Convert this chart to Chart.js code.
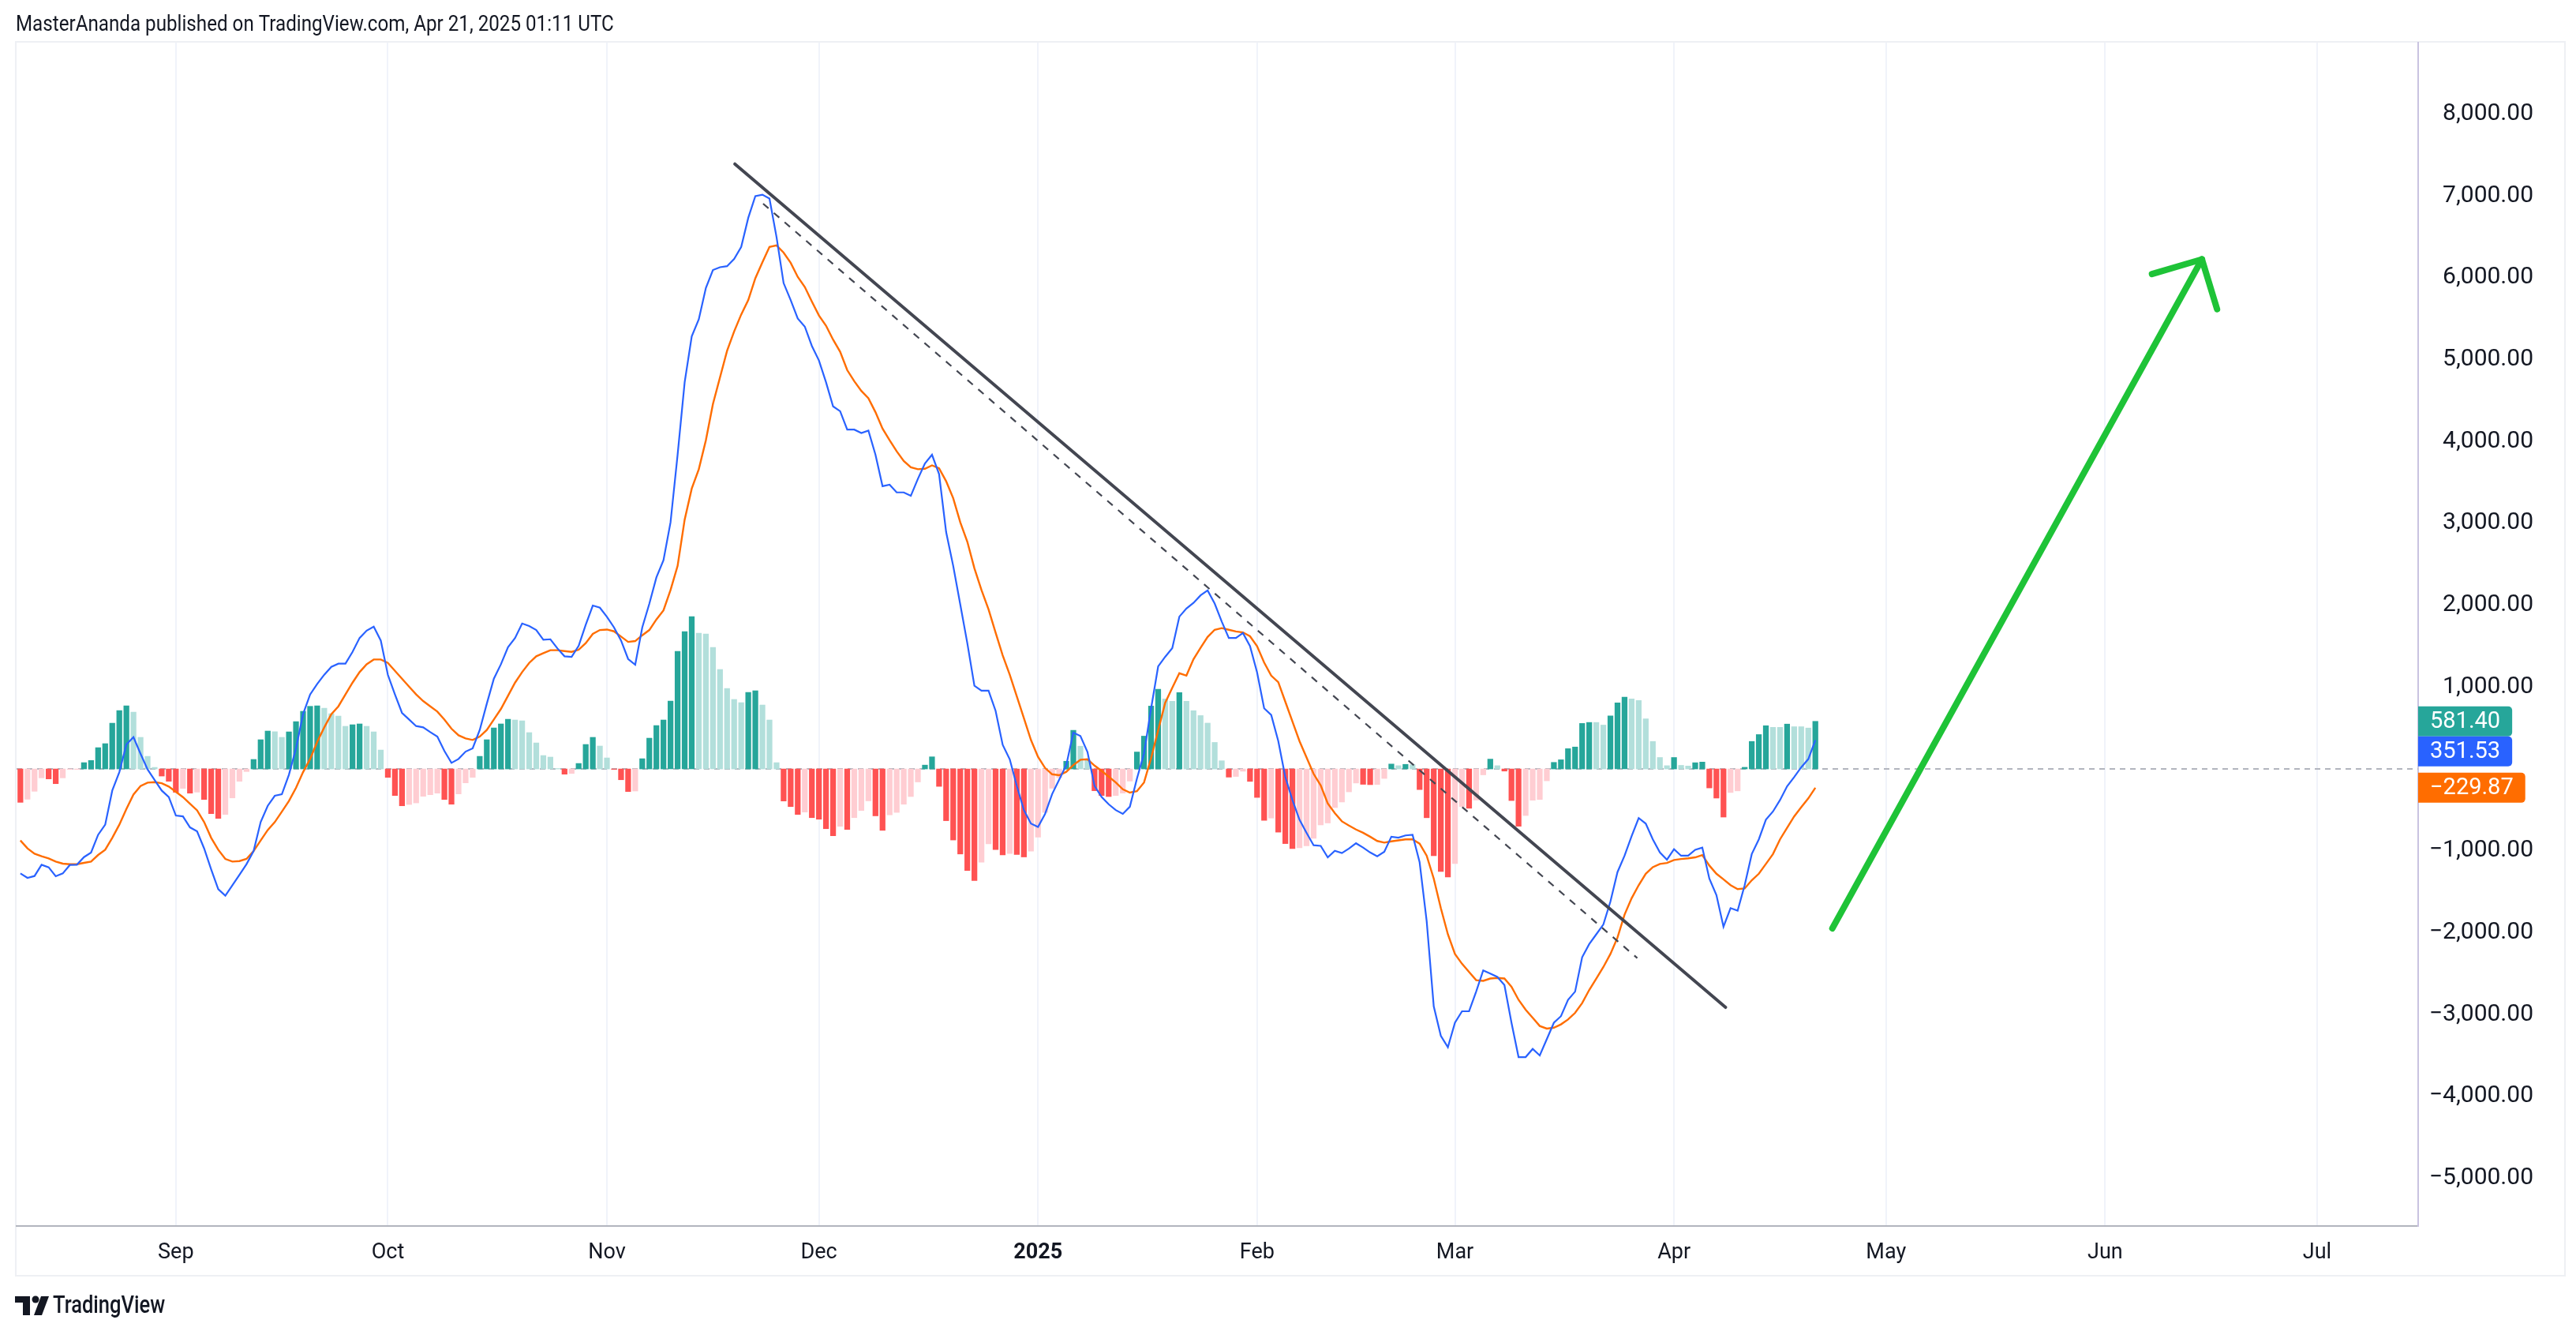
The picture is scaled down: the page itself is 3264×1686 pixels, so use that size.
<!DOCTYPE html>
<html><head><meta charset="utf-8">
<script src="https://cdn.jsdelivr.net/npm/chart.js@4/dist/chart.umd.min.js"></script>
<style>html,body{margin:0;padding:0;background:#fff;}#wrap{position:relative;width:3264px;height:1686px;}</style>
</head><body><div id="wrap"><canvas id="c" width="3264" height="1686"></canvas></div>
<script>
// day offsets relative to 2024-09-01; first bar is day -22 (Aug 10, 2024)
const FIRST_DAY = -22;

const histValues = [
-408,-370,-273,-109,-122,-180,-109,-6,-6,77,
103,260,309,559,713,771,694,386,154,19,
-87,-151,-286,-238,-296,-283,-373,-546,-604,-556,
-354,-151,-32,116,357,463,455,386,453,578,
704,765,771,742,675,646,521,540,550,521,
453,231,-103,-325,-450,-434,-415,-334,-315,-296,
-373,-431,-305,-170,-103,154,357,501,550,607,
598,588,444,318,164,145,5,-64,-55,67,
299,386,280,135,-5,-132,-276,-270,125,376,
530,598,829,1437,1678,1861,1658,1649,1485,1215,
983,849,810,935,955,781,598,77,-392,-460,
-556,-527,-595,-614,-730,-816,-701,-739,-595,-508,
-390,-573,-750,-561,-531,-431,-337,-159,47,148,
-213,-632,-868,-1039,-1240,-1364,-1140,-915,-986,-1051,
-1033,-1045,-1075,-1004,-833,-531,-236,-106,94,472,
278,118,-266,-325,-337,-325,-295,-148,207,401,
768,974,856,827,933,
827,712,652,560,324,100,-100,-92,-28,-152,
-348,-628,-600,-772,-912,-972,-964,-940,-848,-684,
-660,-472,-404,-280,-172,-188,-192,-190,-116,60,
40,56,52,-252,-596,-1060,-1252,-1320,-1156,-460,
-480,-380,-72,120,40,-26,-386,-700,-569,-382,
-373,-145,80,112,248,268,556,568,568,536,
648,808,876,856,836,612,336,140,40,140,
44,36,76,84,-232,-356,-588,-288,-268,20,
336,420,528,508,508,548,516,516,500,581.40
];

const macdValues = [
-1276,-1330,-1308,-1170,-1202,-1311,-1276,-1173,-1170,-1077,
-1022,-804,-681,-264,-39,299,389,186,-6,-135,
-264,-344,-569,-579,-714,-762,-971,-1228,-1469,-1549,
-1421,-1292,-1163,-1003,-649,-450,-328,-309,-71,251,
669,910,1038,1151,1247,1286,1286,1430,1600,1690,
1739,1568,1150,910,685,604,524,508,450,395,
219,74,122,212,251,476,797,1102,1279,1488,
1600,1777,1745,1697,1578,1584,1472,1376,1369,1504,
1761,1996,1970,1858,1729,1568,1343,1273,1729,2018,
2340,2549,
3012,3838,4724,5285,5492,5875,6094,6129,6141,6230,
6377,6732,6997,7015,6968,6496,5935,5728,5503,5403,
5167,4990,4724,4429,4370,4145,4145,4104,4134,3838,
3454,3472,3378,3378,3336,3543,3732,3838,3602,2893,
2480,2008,1535,1016,957,957,709,295,118,-207,
-502,-667,-709,-549,-307,-130,47,443,402,207,
-207,-342,-431,-502,-549,-461,-118,189,738,1252,
1370,1476,1860,
1960,2028,2120,2180,2020,1800,1600,1600,1660,1500,
1180,740,660,340,-100,-380,-620,-780,-932,-940,
-1080,-1000,-1028,-972,-908,-960,-1020,-1068,-1012,-828,
-840,-812,-804,-1140,-1860,-2900,-3260,-3400,-3100,-2960,
-2960,-2720,-2460,-2500,-2540,-2640,-3100,-3520,-3520,-3420,
-3500,-3300,-3100,-3020,-2820,-2720,-2300,-2140,-2020,-1900,
-1620,-1260,-1060,-820,-600,-668,-860,-1020,-1108,-980,
-1060,-1060,-988,-960,-1340,-1540,-1928,-1700,-1732,-1420,
-1040,-860,-620,-520,-380,-212,-100,20,120,351.53
];

const signalValues = [
-874,-970,-1035,-1067,-1093,-1131,-1157,-1164,-1164,-1147,
-1131,-1051,-987,-842,-681,-489,-312,-209,-167,-161,
-174,-215,-280,-344,-424,-505,-649,-842,-987,-1099,
-1131,-1125,-1099,-1003,-874,-746,-649,-521,-392,-231,
-39,122,331,508,669,765,910,1054,1183,1279,
1337,1337,1295,1199,1102,1006,910,829,765,701,
604,492,411,373,354,395,476,604,733,894,
1054,1183,1295,1376,1414,1450,1450,1440,1430,1456,
1536,1649,1697,1703,1681,1617,1552,1562,1633,1697,
1826,1937,
2185,2480,3046,3425,3661,4015,4458,4783,5108,5344,
5551,5728,5994,6188,6377,6395,6307,6183,6011,5887,
5710,5539,5415,5244,5096,4872,4736,4618,4529,4358,
4157,4015,3880,3762,3685,3661,3667,3708,3673,3514,
3307,3012,2775,2451,2185,1949,1665,1388,1151,886,
620,354,148,12,-65,-77,-35,47,112,118,
41,-24,-94,-165,-248,-289,-272,-165,130,472,
809,992,1169,
1140,1340,1480,1612,1700,1720,1700,1680,1668,1620,
1500,1300,1140,1060,820,580,340,140,-60,-200,
-420,-540,-640,-692,-740,-780,-828,-880,-900,-884,
-872,-860,-860,-912,-1060,-1340,-1700,-2020,-2260,-2380,
-2480,-2580,-2588,-2560,-2552,-2560,-2660,-2820,-2940,-3040,
-3140,-3172,-3160,-3120,-3060,-2980,-2860,-2700,-2560,-2420,
-2260,-2060,-1780,-1580,-1420,-1280,-1200,-1160,-1148,-1112,
-1100,-1092,-1080,-1052,-1180,-1280,-1348,-1420,-1468,-1460,
-1360,-1280,-1160,-1040,-860,-720,-580,-468,-360,-229.87
];

const monthTicks  = [0,30,61,91,122,153,181,212,242,273,303];
const monthLabels = ['Sep','Oct','Nov','Dec','2025','Feb','Mar','Apr','May','Jun','Jul'];
const yTickValues = [-5000,-4000,-3000,-2000,-1000,0,1000,2000,3000,4000,5000,6000,7000,8000];

// drawings in data units [day, value]
const trendSolid  = [[79.1, 7390], [219.3, -2912]];
const trendDashed = [[83.1, 6905], [206.8, -2311]];
const growthArrow = [[234.4, -1948], [286.7, 6225]];

const COLORS = {teal:'#26a69a', tealLight:'#b2dfdb', red:'#ff5252', pink:'#ffcdd2', macd:'#2962ff', signal:'#ff6d00'};
const FONT = 'Roboto, "Liberation Sans", sans-serif';

const toPts = arr => arr.map((v,i)=>({x:FIRST_DAY+i, y:v}));
const histColors = histValues.map((v,i)=>{
  const p = i>0 ? histValues[i-1] : 0;
  if (v >= 0) return v > p ? COLORS.teal : COLORS.tealLight;
  return v < p ? COLORS.red : COLORS.pink;
});
const fmt = v => (v<0?'\u2212':'') + Math.abs(v).toLocaleString('en-US',{minimumFractionDigits:2, maximumFractionDigits:2});

const deco = {
  id:'deco',
  beforeDraw(chart){
    const c = chart.ctx;
    c.save();
    c.fillStyle='#fff'; c.fillRect(0,0,chart.width,chart.height);
    c.strokeStyle='#eef0f4'; c.lineWidth=2;
    c.strokeRect(20,53,3230,1563);
    c.fillStyle='#131722'; c.font='26px '+FONT; c.textBaseline='middle'; c.textAlign='left';
    c.save(); c.translate(20,32); c.scale(0.93,1.08);
    c.fillText('MasterAnanda published on TradingView.com, Apr 21, 2025 01:11 UTC', 0, 0);
    c.restore();
    c.fillStyle='#131722';
    c.fillRect(19,1642,19,8); c.fillRect(29,1642,9,24);
    c.beginPath(); c.arc(45,1646,4.5,0,Math.PI*2); c.fill();
    c.beginPath(); c.moveTo(52,1642); c.lineTo(62,1642); c.lineTo(53,1666); c.lineTo(43,1666); c.closePath(); c.fill();
    c.save(); c.translate(67,1655); c.scale(0.88,1.08);
    c.font='500 29px '+FONT; c.fillText('TradingView', 0, 0);
    c.restore();
    c.restore();
  },
  beforeDatasetsDraw(chart){
    const c = chart.ctx, y = chart.scales.y, a = chart.chartArea;
    c.save();
    c.fillStyle='#131722'; c.font='30px '+FONT; c.textAlign='right'; c.textBaseline='middle';
    yTickValues.forEach(v=>{ if (v!==0) c.fillText(fmt(v), 3210, y.getPixelForValue(v)); });
    c.strokeStyle='#b2b5be'; c.lineWidth=2; c.setLineDash([7,6]);
    const y0 = Math.round(y.getPixelForValue(0));
    c.beginPath(); c.moveTo(a.left,y0); c.lineTo(a.right,y0); c.stroke();
    c.restore();
  },
  afterDatasetsDraw(chart){
    const c = chart.ctx, x = chart.scales.x, y = chart.scales.y, a = chart.chartArea;
    const P = p => [x.getPixelForValue(p[0]), y.getPixelForValue(p[1])];
    c.save();
    c.lineCap='round';
    let p1=P(trendSolid[0]), p2=P(trendSolid[1]);
    c.strokeStyle='#434651'; c.lineWidth=4;
    c.beginPath(); c.moveTo(...p1); c.lineTo(...p2); c.stroke();
    p1=P(trendDashed[0]); p2=P(trendDashed[1]);
    c.lineWidth=2.2; c.setLineDash([9,9]); c.lineCap='butt';
    c.beginPath(); c.moveTo(...p1); c.lineTo(...p2); c.stroke();
    c.setLineDash([]);
    p1=P(growthArrow[0]); p2=P(growthArrow[1]);
    c.strokeStyle='#1ec337'; c.lineWidth=8; c.lineCap='round';
    c.beginPath(); c.moveTo(...p1); c.lineTo(...p2); c.stroke();
    const ang = Math.atan2(p1[1]-p2[1], p1[0]-p2[0]);
    [-0.8,0.78].forEach(da=>{
      c.beginPath(); c.moveTo(...p2);
      c.lineTo(p2[0]+66*Math.cos(ang+da), p2[1]+66*Math.sin(ang+da)); c.stroke();
    });
    const tags = [
      {v:histValues[histValues.length-1], col:COLORS.teal},
      {v:macdValues[macdValues.length-1], col:COLORS.macd},
      {v:signalValues[signalValues.length-1], col:COLORS.signal}
    ].map(t=>({...t, py:y.getPixelForValue(t.v)})).sort((p,q)=>p.py-q.py);
    const H=38; let last=-1e9;
    c.font='29px '+FONT; c.textBaseline='middle'; c.textAlign='left';
    tags.forEach(t=>{
      let cy=Math.max(t.py, last+H); last=cy;
      const txt=fmt(t.v), w=c.measureText(txt).width+30;
      c.fillStyle=t.col;
      c.beginPath(); c.roundRect(a.right, cy-H/2, w, H, [0,5,5,0]); c.fill();
      c.fillStyle='#fff'; c.fillText(txt, a.right+15, cy+1);
    });
    c.restore();
  }
};

new Chart(document.getElementById('c'), {
  type:'bar',
  data:{datasets:[
    {type:'line', label:'MACD', data:toPts(macdValues), borderColor:COLORS.macd, borderWidth:2.2, pointRadius:0, tension:0, order:1},
    {type:'line', label:'Signal', data:toPts(signalValues), borderColor:COLORS.signal, borderWidth:2.4, pointRadius:0, tension:0, order:2},
    {type:'bar', label:'Histogram', data:toPts(histValues), backgroundColor:histColors, barThickness:6.6, order:3}
  ]},
  options:{
    responsive:false, devicePixelRatio:1, animation:false,
    layout:{padding:{left:21, top:54, right:0, bottom:0}},
    plugins:{legend:{display:false}, tooltip:{enabled:false}},
    scales:{
      x:{type:'linear', min:-22.54, max:317.3, offset:false,
        afterBuildTicks:s=>{s.ticks=monthTicks.map(v=>({value:v}));},
        afterFit:s=>{s.height=133;},
        ticks:{autoSkip:false, maxRotation:0, padding:18, color:'#131722',
          callback:v=>monthLabels[monthTicks.indexOf(v)],
          font:ctx=>({family:FONT, size:27, weight:(ctx.tick && ctx.tick.value===122)?'bold':'normal'})},
        grid:{color:'#f0f3fa', lineWidth:2, drawTicks:false, offset:false},
        border:{color:'#b2b5be', width:2}
      },
      y:{position:'right', min:-5583, max:8872,
        afterBuildTicks:s=>{s.ticks=yTickValues.map(v=>({value:v}));},
        afterFit:s=>{s.width=200;},
        ticks:{display:false},
        grid:{display:false},
        border:{color:'#c9c3e0', width:2}
      }
    }
  },
  plugins:[deco]
});
</script></body></html>
